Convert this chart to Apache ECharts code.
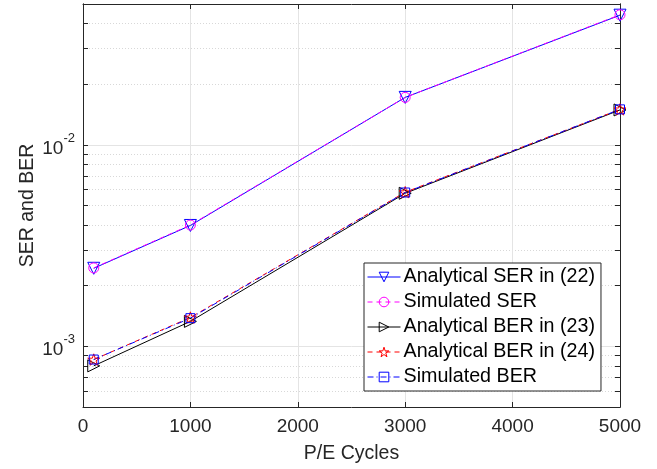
<!DOCTYPE html>
<html>
<head>
<meta charset="utf-8">
<script src="https://cdn.jsdelivr.net/npm/echarts@6/dist/echarts.min.js"></script>
<style>
  html, body { margin: 0; padding: 0; background: #fff; }
  #myChart { width: 657px; height: 469px; }
</style>
</head>
<body>
<div id="myChart"></div>
<script>
// P/E cycles
var peCycles = [100, 1000, 3000, 5000];
var analyticalSER22 = [2.44e-3, 3.98e-3, 1.72e-2, 4.40e-2];
var simulatedSER = [2.45e-3, 4.00e-3, 1.72e-2, 4.42e-2];
var analyticalBER23 = [8.0e-4, 1.33e-3, 5.75e-3, 1.49e-2];
var analyticalBER24 = [8.6e-4, 1.39e-3, 5.82e-3, 1.50e-2];
var simulatedBER = [8.6e-4, 1.38e-3, 5.80e-3, 1.50e-2];

var yMajorTicks = [1e-3, 1e-2];
var yMinorTicks = [5e-4, 6e-4, 7e-4, 8e-4, 9e-4, 2e-3, 3e-3, 4e-3, 5e-3, 6e-3, 7e-3, 8e-3, 9e-3, 2e-2, 3e-2, 4e-2, 5e-2];

var font = '"Liberation Sans", Arial, Helvetica, sans-serif';
var axisColor = '#262626';
var starPath = 'path://M0,-10L2.25,-3.09L9.51,-3.09L3.63,1.18L5.88,8.09L0,3.82L-5.88,8.09L-3.63,1.18L-9.51,-3.09L-2.25,-3.09Z';

function pairs(ys) {
    return peCycles.map(function (x, i) { return [x, ys[i]]; });
}

function mkSeries(name, ys, color, lineType, symbol, size, rotate) {
    return {
        name: name,
        type: 'line',
        data: pairs(ys),
        symbol: symbol,
        symbolSize: size,
        symbolRotate: rotate || 0,
        symbolKeepAspect: true,
        showAllSymbol: true,
        color: color,
        lineStyle: { color: color, width: 1, type: lineType },
        itemStyle: { color: 'rgba(255,255,255,0)', borderColor: color, borderWidth: 1 },
        emphasis: { disabled: true },
        animation: false
    };
}

function yAxisDef(ticks, position, labels, dotted, title) {
    return {
        type: 'log',
        logBase: 10,
        min: 5e-4,
        max: 5e-2,
        position: position,
        axisLine: { show: true, lineStyle: { color: axisColor, width: 1 } },
        axisTick: { show: true, inside: true, length: 5, customValues: ticks, lineStyle: { color: axisColor } },
        axisLabel: {
            show: labels,
            customValues: ticks,
            margin: 8,
            formatter: function (v) {
                var e = Math.round(Math.log10(v));
                return '{b|10}{s|' + e + '}';
            },
            rich: {
                b: { fontSize: 19, lineHeight: 26, verticalAlign: 'bottom', color: axisColor, fontFamily: font },
                s: { fontSize: 13, lineHeight: 26, verticalAlign: 'top', color: axisColor, fontFamily: font }
            }
        },
        splitLine: {
            show: position === 'left',
            lineStyle: dotted ? { color: '#d8d8d8', type: [1, 2], width: 1 } : { color: '#e4e4e4', width: 1 }
        },
        minorTick: { show: false },
        name: title || '',
        nameLocation: 'middle',
        nameGap: 45,
        nameTextStyle: { fontSize: 19.5, color: axisColor, fontFamily: font }
    };
}

function xAxisDef(position, labels) {
    return {
        type: 'value',
        min: 0,
        max: 5000,
        interval: 1000,
        position: position,
        axisLine: { show: true, onZero: false, lineStyle: { color: axisColor, width: 1 } },
        axisTick: { show: true, inside: true, length: 5, lineStyle: { color: axisColor } },
        axisLabel: {
            show: labels, margin: 10, fontSize: 19, color: axisColor, fontFamily: font,
            formatter: function (v) { return String(v); }
        },
        splitLine: { show: position === 'bottom', lineStyle: { color: '#e4e4e4', width: 1 } },
        name: labels ? 'P/E Cycles' : '',
        nameLocation: 'middle',
        nameGap: 37,
        nameTextStyle: { fontSize: 19.5, color: axisColor, fontFamily: font }
    };
}

var option = {
    backgroundColor: '#fff',
    animation: false,
    grid: { left: 83, right: 37, top: 4, bottom: 62, containLabel: false },
    xAxis: [xAxisDef('bottom', true), xAxisDef('top', false)],
    yAxis: [
        yAxisDef(yMajorTicks, 'left', true, false),
        yAxisDef(yMinorTicks, 'left', false, true, 'SER and BER'),
        yAxisDef(yMajorTicks, 'right', false, false),
        yAxisDef(yMinorTicks, 'right', false, true)
    ],
    legend: {
        orient: 'vertical',
        left: 364,
        top: 263,
        backgroundColor: '#fff',
        borderColor: axisColor,
        borderWidth: 1,
        padding: [4, 6, 4, 3],
        itemGap: 5,
        itemWidth: 33,
        itemHeight: 12,
        lineStyle: { width: 1 },
        itemStyle: { color: 'rgba(255,255,255,0)', borderWidth: 1 },
        textStyle: { fontSize: 19.7, color: '#000', fontFamily: font, padding: [0, 0, 0, -2] },
        data: ['Analytical SER in (22)', 'Simulated SER', 'Analytical BER in (23)', 'Analytical BER in (24)', 'Simulated BER']
    },
    series: [
        mkSeries('Analytical SER in (22)', analyticalSER22, '#0000ff', 'solid', 'triangle', 12, 180),
        mkSeries('Simulated SER', simulatedSER, '#ff00ff', [5, 4], 'circle', 10),
        mkSeries('Analytical BER in (23)', analyticalBER23, '#000000', 'solid', 'triangle', 12, -90),
        mkSeries('Analytical BER in (24)', analyticalBER24, '#ff0000', [5, 4], starPath, 12),
        mkSeries('Simulated BER', simulatedBER, '#0000ff', [6, 3, 1, 3], 'rect', 9)
    ]
};

var myChart = echarts.init(document.getElementById('myChart'));
myChart.setOption(option);
window.onresize = function () {
    myChart.resize();
};
</script>
</body>
</html>
